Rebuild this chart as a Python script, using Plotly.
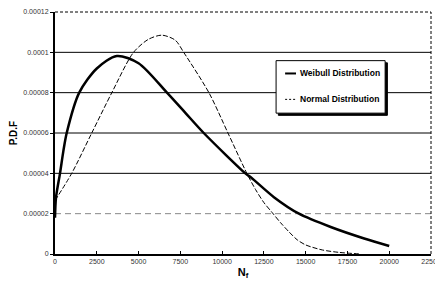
import plotly.graph_objects as go

weibull_x = [0, 60, 300, 500, 700, 1450, 2500, 3700, 5000, 6700, 7800, 8900,
             11390, 11750, 13100, 14600, 16500, 18500, 20000]
weibull_y = [1.8e-5, 2.8e-5, 4e-5, 5.1e-5, 6e-5, 8e-5, 9.2e-5, 9.82e-5, 9.46e-5,
             8e-5, 7e-5, 6e-5, 4e-5, 3.78e-5, 2.82e-5, 2e-5, 1.34e-5, 7.7e-6, 4e-6]

normal_x = [0, 1000, 2200, 3400, 4700, 5600, 6400, 7200, 7700, 9210, 10350,
            11480, 12000, 12500, 13000, 13500, 14000, 14500, 15000, 16000, 17000, 18300]
normal_y = [2.65e-5, 4e-5, 6e-5, 8e-5, 1e-4, 1.065e-4, 1.085e-4, 1.06e-4, 1e-4, 8e-5, 6e-5,
            4e-5, 3.2e-5, 2.55e-5, 2.05e-5, 1.55e-5, 1.1e-5, 7e-6, 4.5e-6, 2e-6, 8e-7, 0]

x_ticks = [0, 2500, 5000, 7500, 10000, 12500, 15000, 17500, 20000, 22500]
x_labels = ["0", "2500", "5000", "7500", "10000", "12500", "15000", "17500", "20000", "22500"]
y_ticks = [0, 2e-5, 4e-5, 6e-5, 8e-5, 1e-4, 1.2e-4]
y_labels = ["0", "0.00002", "0.00004", "0.00006", "0.00008", "0.0001", "0.00012"]
series_names = ["Weibull Distribution", "Normal Distribution"]

fig = go.Figure()
fig.add_trace(go.Scatter(x=weibull_x, y=weibull_y, mode="lines", name=series_names[0],
                         line=dict(color="black", width=2.5, shape="spline", smoothing=0.8)))
fig.add_trace(go.Scatter(x=normal_x, y=normal_y, mode="lines", name=series_names[1],
                         line=dict(color="black", width=1, dash="5px,2px",
                                   shape="spline", smoothing=0.8)))

shapes = []
for v in y_ticks[1:-1]:
    if v == y_ticks[1]:
        st = dict(color="#888888", width=1, dash="6px,4px")
    else:
        st = dict(color="black", width=1)
    shapes.append(dict(type="line", xref="paper", yref="y", x0=0, x1=1, y0=v, y1=v,
                       line=st, layer="below"))
# dashed top and right borders of the plot area
shapes.append(dict(type="line", xref="paper", yref="paper", x0=0, x1=1, y0=1, y1=1,
                   line=dict(color="black", width=1, dash="3px,2px")))
shapes.append(dict(type="line", xref="paper", yref="paper", x0=1, x1=1, y0=0, y1=1,
                   line=dict(color="black", width=1, dash="3px,2px")))

# custom legend box (with shadow)
lx0, lx1, ly0, ly1 = 0.588, 0.878, 0.582, 0.799
shapes.append(dict(type="rect", xref="paper", yref="paper", x0=lx0 + 0.006, x1=lx1 + 0.006,
                   y0=ly0 - 0.009, y1=ly1 - 0.009, line=dict(color="black", width=1),
                   fillcolor="black"))
shapes.append(dict(type="rect", xref="paper", yref="paper", x0=lx0, x1=lx1, y0=ly0, y1=ly1,
                   line=dict(color="black", width=1), fillcolor="white"))
leg_y = [0.746, 0.639]
leg_styles = [dict(color="black", width=2), dict(color="black", width=1, dash="2px,2px")]
annotations = []
for name, yy, st in zip(series_names, leg_y, leg_styles):
    shapes.append(dict(type="line", xref="paper", yref="paper", x0=0.612, x1=0.641,
                       y0=yy, y1=yy, line=st))
    annotations.append(dict(text=name, xref="paper", yref="paper", x=0.646, y=yy,
                            xanchor="left", yanchor="middle", showarrow=False,
                            font=dict(family="Liberation Sans", size=8.5, weight="bold",
                                      color="black")))

# page body has an 8px margin: shrink figure so the plot lands where the reference has it
fig.update_layout(
    width=435, height=279,
    margin=dict(l=47, r=12, t=4, b=33),
    paper_bgcolor="white", plot_bgcolor="white",
    font=dict(family="Liberation Sans", color="black"),
    shapes=shapes, annotations=annotations,
    showlegend=False,
    xaxis=dict(range=[0, 22500], tickvals=x_ticks, ticktext=x_labels, showgrid=False,
               showline=True, linecolor="black", linewidth=2, ticks="inside", ticklen=3,
               tickcolor="black", zeroline=False, automargin=False,
               ticklabeloverflow="allow",
               tickfont=dict(size=7, color="#333333"),
               title=dict(text="N<sub>f</sub>", font=dict(size=11, weight="bold"), standoff=4)),
    yaxis=dict(range=[0, 1.2e-4], tickvals=y_ticks, ticktext=y_labels, showgrid=False,
               showline=True, linecolor="black", linewidth=2, ticks="outside", ticklen=3,
               tickcolor="black", zeroline=False, automargin=False,
               ticklabeloverflow="allow",
               tickfont=dict(size=7, color="#333333"),
               title=dict(text="P.D.F", font=dict(size=10, weight="bold"), standoff=6)),
)

fig.write_html("out.html")
